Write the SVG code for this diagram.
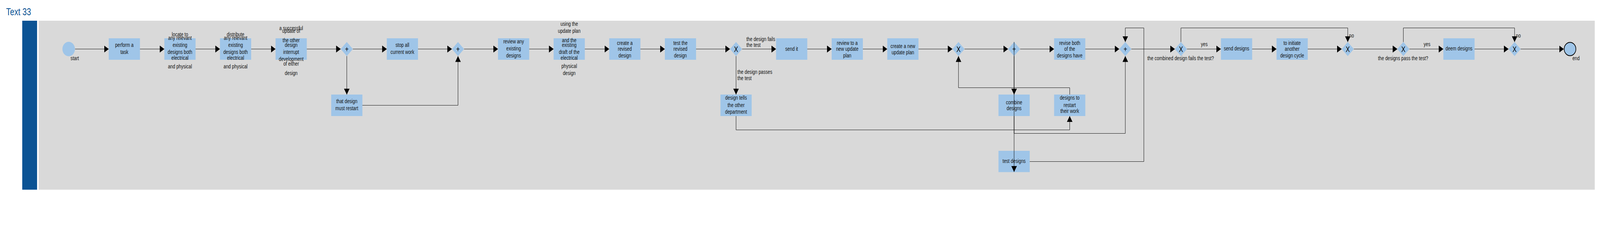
<svg xmlns="http://www.w3.org/2000/svg" width="5179" height="581" viewBox="0 0 5179 581" preserveAspectRatio="none">
<style>
svg{width:100vw;height:100vh}
.t{font-family:"Liberation Sans",Arial,sans-serif;font-size:14px;fill:#111;text-anchor:middle}
.l{font-family:"Liberation Sans",Arial,sans-serif;font-size:14px;fill:#111}
.g{font-family:"Liberation Sans",Arial,sans-serif;font-size:20px;fill:#000;text-anchor:middle}
.task{fill:#9fc5e8}
.gw{fill:#9fc5e8}
.c{fill:none;stroke:#000;stroke-width:1;marker-end:url(#ah)}
</style>
<defs>
<marker id="ah" markerUnits="userSpaceOnUse" markerWidth="15" markerHeight="18" refX="15" refY="9" orient="auto">
<path d="M0,0 L15,9 L0,18 Z" fill="#000"/>
</marker>
</defs>
<rect width="5179" height="581" fill="#fff"/>
<text x="20" y="39.5" font-family="Liberation Sans, Arial, sans-serif" font-size="25" fill="#0b5394">Text 33</text>
<g id="pool">
<rect x="72" y="53" width="48" height="432.5" fill="#0b5394"/>
<rect x="125" y="53" width="5037" height="432.5" fill="#d9d9d9"/>
</g>
<g id="start"><ellipse cx="222.3" cy="125.5" rx="20.3" ry="18.5" fill="#9fc5e8"/><text class="t" x="242" y="154.3">start</text></g>
<g id="perform"><rect class="task" x="352" y="98" width="101" height="55"/><text class="t" x="402.5" y="120.5">perform a</text><text class="t" x="402.5" y="138">task</text></g>
<g id="locate"><rect class="task" x="532" y="98" width="101" height="55"/>
<text class="t" x="582.5" y="92.7">locate to</text><text class="t" x="582.5" y="102.5">any relevant</text><text class="t" x="582.5" y="120">existing</text><text class="t" x="582.5" y="138">designs both</text><text class="t" x="582.5" y="153.3">electrical</text><text class="t" x="582.5" y="174.7">and physical</text></g>
<g id="distribute"><rect class="task" x="712" y="98" width="101" height="55"/>
<text class="t" x="762.5" y="92.7">distribute</text><text class="t" x="762.5" y="102.5">any relevant</text><text class="t" x="762.5" y="120">existing</text><text class="t" x="762.5" y="138">designs both</text><text class="t" x="762.5" y="153.3">electrical</text><text class="t" x="762.5" y="174.7">and physical</text></g>
<g id="successful"><rect class="task" x="892" y="98" width="101" height="55"/>
<text class="t" x="942.5" y="76.7">a successful</text><text class="t" x="942.5" y="84">update of</text><text class="t" x="942.5" y="108">the other</text><text class="t" x="942.5" y="120">design</text><text class="t" x="942.5" y="138">interrupt</text><text class="t" x="942.5" y="156">development</text><text class="t" x="942.5" y="168.3">of either</text><text class="t" x="942.5" y="192">design</text></g>
<g id="gw1"><polygon class="gw" points="1122.5,107.5 1142,125.5 1122.5,143.5 1103,125.5"/><text class="g" x="1122.5" y="133">+</text></g>
<g id="stop"><rect class="task" x="1252" y="98" width="101" height="55"/><text class="t" x="1302.5" y="120.5">stop all</text><text class="t" x="1302.5" y="138">current work</text></g>
<g id="restart1"><rect class="task" x="1072" y="242" width="101" height="55"/><text class="t" x="1122.5" y="264">that design</text><text class="t" x="1122.5" y="282">must restart</text></g>
<g id="gw2"><polygon class="gw" points="1482.5,107.5 1502,125.5 1482.5,143.5 1463,125.5"/><text class="g" x="1482.5" y="133">+</text></g>
<g id="review"><rect class="task" x="1612" y="98" width="101" height="55"/><text class="t" x="1662.5" y="111.5">review any</text><text class="t" x="1662.5" y="129.5">existing</text><text class="t" x="1662.5" y="147.3">designs</text></g>
<g id="using"><rect class="task" x="1792" y="98" width="101" height="55"/>
<text class="t" x="1842.5" y="66">using the</text><text class="t" x="1842.5" y="84">update plan</text><text class="t" x="1842.5" y="108">and the</text><text class="t" x="1842.5" y="120">existing</text><text class="t" x="1842.5" y="138">draft of the</text><text class="t" x="1842.5" y="153.3">electrical</text><text class="t" x="1842.5" y="174">physical</text><text class="t" x="1842.5" y="192">design</text></g>
<g id="createRevised"><rect class="task" x="1972" y="98" width="101" height="55"/><text class="t" x="2022.5" y="114.7">create a</text><text class="t" x="2022.5" y="130">revised</text><text class="t" x="2022.5" y="147.3">design</text></g>
<g id="testRevised"><rect class="task" x="2152" y="98" width="101" height="55"/><text class="t" x="2202.5" y="114.7">test the</text><text class="t" x="2202.5" y="130">revised</text><text class="t" x="2202.5" y="147.3">design</text></g>
<g id="gw3"><polygon class="gw" points="2382.5,107.5 2402,125.5 2382.5,143.5 2363,125.5"/><text class="g" x="2382.5" y="133">X</text></g>
<g id="sendit"><rect class="task" x="2512" y="98" width="101" height="55"/><text class="t" x="2562.5" y="130">send it</text></g>
<g id="tells"><rect class="task" x="2332" y="242" width="101" height="55"/><text class="t" x="2382.5" y="255.3">design tells</text><text class="t" x="2382.5" y="274">the other</text><text class="t" x="2382.5" y="291.3">department</text></g>
<g id="reviewNew"><rect class="task" x="2692" y="98" width="101" height="55"/><text class="t" x="2742.5" y="114.7">review to a</text><text class="t" x="2742.5" y="130">new update</text><text class="t" x="2742.5" y="147.3">plan</text></g>
<g id="createNew"><rect class="task" x="2872" y="98" width="101" height="55"/><text class="t" x="2922.5" y="122.7">create a new</text><text class="t" x="2922.5" y="138.7">update plan</text></g>
<g id="gw4"><polygon class="gw" points="3102.5,107.5 3122,125.5 3102.5,143.5 3083,125.5"/><text class="g" x="3102.5" y="133">X</text></g>
<g id="gw5"><polygon class="gw" points="3282.5,107.5 3302,125.5 3282.5,143.5 3263,125.5"/><text class="g" x="3282.5" y="133">+</text></g>
<g id="reviseBoth"><rect class="task" x="3412" y="98" width="101" height="55"/><text class="t" x="3462.5" y="114.7">revise both</text><text class="t" x="3462.5" y="130">of the</text><text class="t" x="3462.5" y="147.3">designs have</text></g>
<g id="combine"><rect class="task" x="3232" y="242" width="101" height="55"/><text class="t" x="3282.5" y="266.7">combine</text><text class="t" x="3282.5" y="282">designs</text></g>
<g id="restart2"><rect class="task" x="3412" y="242" width="101" height="55"/><text class="t" x="3462.5" y="255.3">designs to</text><text class="t" x="3462.5" y="274">restart</text><text class="t" x="3462.5" y="288.7">their work</text></g>
<g id="testDesigns"><rect class="task" x="3232" y="386" width="101" height="54.5"/><text class="t" x="3282.5" y="416.7">test designs</text></g>
<g id="gw6"><polygon class="gw" points="3642.5,107.5 3662,125.5 3642.5,143.5 3623,125.5"/><text class="g" x="3642.5" y="133">+</text></g>
<g id="gw7"><polygon class="gw" points="3822.5,107.5 3842,125.5 3822.5,143.5 3803,125.5"/><text class="g" x="3822.5" y="133">X</text></g>
<g id="sendDesigns"><rect class="task" x="3952" y="98" width="101" height="55"/><text class="t" x="4002.5" y="129.3">send designs</text></g>
<g id="initiate"><rect class="task" x="4132" y="98" width="101" height="55"/><text class="t" x="4182.5" y="114.7">to initiate</text><text class="t" x="4182.5" y="130">another</text><text class="t" x="4182.5" y="147.3">design cycle</text></g>
<g id="gw8"><polygon class="gw" points="4362.5,107.5 4382,125.5 4362.5,143.5 4343,125.5"/><text class="g" x="4362.5" y="133">X</text></g>
<g id="gw9"><polygon class="gw" points="4542.5,107.5 4562,125.5 4542.5,143.5 4523,125.5"/><text class="g" x="4542.5" y="133">X</text></g>
<g id="deem"><rect class="task" x="4672" y="98" width="101" height="55"/><text class="t" x="4722.5" y="129.3">deem designs</text></g>
<g id="gw10"><polygon class="gw" points="4902.5,107.5 4922,125.5 4902.5,143.5 4883,125.5"/><text class="g" x="4902.5" y="133">X</text></g>
<g id="end"><ellipse cx="5082" cy="125.5" rx="19" ry="17" fill="#9fc5e8" stroke="#000" stroke-width="2"/><text class="t" x="5101.5" y="154.3">end</text></g>
<g id="connectors">
<path class="c" d="M243,125.5 H352"/>
<path class="c" d="M453,125.5 H532"/>
<path class="c" d="M633,125.5 H712"/>
<path class="c" d="M813,125.5 H892"/>
<path class="c" d="M993,125.5 H1103"/>
<path class="c" d="M1142,125.5 H1252"/>
<path class="c" d="M1122.5,143.5 V242"/>
<path class="c" d="M1353,125.5 H1463"/>
<path class="c" d="M1173,269.5 H1482.5 V143.5"/>
<path class="c" d="M1502,125.5 H1612"/>
<path class="c" d="M1713,125.5 H1792"/>
<path class="c" d="M1893,125.5 H1972"/>
<path class="c" d="M2073,125.5 H2152"/>
<path class="c" d="M2253,125.5 H2363"/>
<path class="c" d="M2402,125.5 H2512"/>
<path class="c" d="M2382.5,143.5 V242"/>
<path class="c" d="M2613,125.5 H2692"/>
<path class="c" d="M2793,125.5 H2872"/>
<path class="c" d="M2973,125.5 H3083"/>
<path class="c" d="M3122,125.5 H3263"/>
<path class="c" d="M3302,125.5 H3412"/>
<path class="c" d="M3282.5,143.5 V242"/>
<path class="c" d="M3282.5,107.5 V440"/>
<path class="c" d="M3282.5,297 V341.5 H3642.5 V143.5"/>
<path class="c" d="M3333,413.5 H3702.5 V71.5 H3642.5 V107.5"/>
<path class="c" d="M3513,125.5 H3623"/>
<path class="c" d="M3662,125.5 H3803"/>
<path class="c" d="M3822.5,107.5 V71.5 H4362.5 V107.5"/>
<path class="c" d="M3842,125.5 H3952"/>
<path class="c" d="M4053,125.5 H4132"/>
<path class="c" d="M4233,125.5 H4343"/>
<path class="c" d="M4382,125.5 H4523"/>
<path class="c" d="M4542.5,107.5 V71.5 H4902.5 V107.5"/>
<path class="c" d="M4562,125.5 H4672"/>
<path class="c" d="M4773,125.5 H4883"/>
<path class="c" d="M4922,125.5 H5062"/>
<path class="c" d="M2382.5,297 V332.5 H3462.5 V297"/>
<path class="c" d="M3462.5,242 V224.5 H3102.5 V143.5"/>
<text class="l" x="2416" y="104.7">the design fails</text>
<text class="l" x="2416" y="120">the test</text>
<text class="l" x="2387" y="189.3">the design passes</text>
<text class="l" x="2387" y="204.7">the test</text>
<text class="t" x="3821.5" y="154.3">the combined design fails the test?</text>
<text class="t" x="3898" y="118">yes</text>
<text class="l" x="4367" y="96">no</text>
<text class="t" x="4541.7" y="154.3">the designs pass the test?</text>
<text class="t" x="4619" y="118">yes</text>
<text class="l" x="4907" y="96">no</text>
</g>
</svg>
